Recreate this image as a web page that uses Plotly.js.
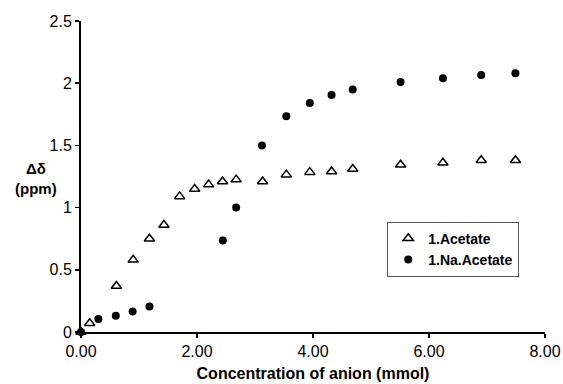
<!DOCTYPE html>
<html>
<head>
<meta charset="utf-8">
<script src="https://cdn.plot.ly/plotly-3.0.1.min.js"></script>
<style>html,body{margin:0;padding:0;background:#fff;}#chart{width:563px;height:384px;}</style>
</head>
<body>
<div id="chart"></div>
<script>
// Data
const acetateX = [0, 0.15, 0.61, 0.90, 1.18, 1.43, 1.70, 1.96, 2.20, 2.44, 2.675, 3.13, 3.54, 3.945, 4.32, 4.685, 5.51, 6.24, 6.90, 7.49];
const acetateY = [0, 0.07, 0.37, 0.58, 0.75, 0.86, 1.09, 1.15, 1.185, 1.21, 1.225, 1.21, 1.265, 1.285, 1.29, 1.31, 1.345, 1.36, 1.38, 1.38];
const naAcetateX = [0, 0.30, 0.60, 0.89, 1.18, 2.445, 2.675, 3.12, 3.54, 3.945, 4.32, 4.685, 5.51, 6.24, 6.90, 7.49];
const naAcetateY = [0, 0.105, 0.13, 0.165, 0.205, 0.735, 1.0, 1.50, 1.735, 1.84, 1.905, 1.95, 2.01, 2.04, 2.065, 2.08];
const xTicks = [0, 2, 4, 6, 8];
const yTicks = [0, 0.5, 1, 1.5, 2, 2.5];
const seriesNames = ['1.Acetate', '1.Na.Acetate'];

const font = 'Liberation Sans, Arial, sans-serif';

const traces = [
  {x: acetateX, y: acetateY, name: seriesNames[0], mode: 'markers', type: 'scatter', cliponaxis: false,
   marker: {symbol: 'triangle-up-open', size: 9, color: '#000', line: {width: 1.5, color: '#000'}}},
  {x: naAcetateX, y: naAcetateY, name: seriesNames[1], mode: 'markers', type: 'scatter', cliponaxis: false,
   marker: {symbol: 'circle', size: 8, color: '#000'}}
];

const layout = {
  width: 563, height: 384,
  margin: {l: 81, r: 18, t: 21, b: 52},
  paper_bgcolor: '#fff', plot_bgcolor: '#fff',
  font: {family: font, size: 16, color: '#000'},
  showlegend: true,
  legend: {x: 0.66, y: 0.355, xanchor: 'left', yanchor: 'top', bgcolor: '#fff',
    bordercolor: '#555', borderwidth: 1, font: {family: font, size: 14, color: '#000', weight: 'bold'},
    tracegroupgap: 0, itemwidth: 30},
  xaxis: {range: [0, 8], tickvals: xTicks, ticktext: xTicks.map(v => v.toFixed(2)),
    showgrid: false, zeroline: false, showline: true, linecolor: '#000', linewidth: 2,
    ticks: 'outside', ticklen: 4, tickwidth: 1.5, tickcolor: '#000',
    tickfont: {family: font, size: 16, color: '#000'},
    title: {text: '<b>Concentration of anion (mmol)</b>', font: {family: font, size: 16, color: '#000'}, standoff: 9}},
  yaxis: {range: [0, 2.5], tickvals: yTicks, ticktext: yTicks.map(v => String(v)),
    showgrid: false, zeroline: false, showline: true, linecolor: '#000', linewidth: 2,
    ticks: 'outside', ticklen: 4, tickwidth: 1.5, tickcolor: '#000',
    tickfont: {family: font, size: 16, color: '#000'}},
  annotations: [{text: '<b>Δδ<br>(ppm)</b>', xref: 'paper', yref: 'paper', x: -0.098, y: 0.495,
    xanchor: 'center', yanchor: 'middle', showarrow: false, align: 'center',
    font: {family: font, size: 15, color: '#000'}}]
};

Plotly.newPlot('chart', traces, layout, {displayModeBar: false, staticPlot: true});
</script>
</body>
</html>
